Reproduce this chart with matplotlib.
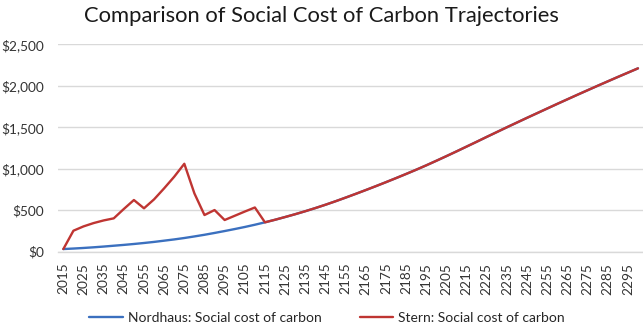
import numpy as np
import matplotlib
matplotlib.use("Agg")
import matplotlib.pyplot as plt
from matplotlib.ticker import FuncFormatter

plt.rcParams['font.family'] = ['Lato', 'DejaVu Sans']

years = list(range(2015, 2305, 5))

# tail shared by both series after 2115
tail = [385, 418, 452, 488, 526, 566, 608, 652, 697, 743, 790, 838, 887, 937,
        988, 1041, 1096, 1152, 1209, 1267, 1325, 1384, 1442, 1500, 1557, 1614,
        1670, 1726, 1782, 1837, 1892, 1946, 2000, 2053, 2106, 2158, 2210]

nordhaus = [32, 38, 45, 53, 62, 72, 82, 93, 105, 118, 133, 148, 165, 184,
            204, 226, 249, 273, 298, 325, 354] + tail

stern = [32, 253, 305, 345, 377, 402, 515, 623, 523, 631, 764, 904, 1060,
         703, 442, 502, 382, 433, 484, 533, 354] + tail

fig = plt.figure(figsize=(6.43, 3.29), dpi=100)
ax = fig.add_axes([58.3/643, 1-251.7/329, 1-58.3/643, (251.7-44.3)/329])

x = np.arange(len(years))
ax.plot(x, nordhaus, color="#3B70BF", lw=1.7, label="Nordhaus: Social cost of carbon",
        solid_capstyle="round", solid_joinstyle="round")
ax.plot(x, stern, color="#BF3532", lw=1.7, label="Stern: Social cost of carbon",
        solid_capstyle="round", solid_joinstyle="round")

ax.set_xlim(-0.5, len(years) - 0.5)
ax.set_ylim(0, 2500)
ax.set_yticks(range(0, 2501, 500))
ax.yaxis.set_major_formatter(FuncFormatter(lambda v, p: "${:,.0f}".format(v)))
ax.set_xticks(x[::2])
ax.set_xticklabels([str(y) for y in years[::2]], rotation=90)
ax.tick_params(axis="both", length=0, labelsize=9.8, colors="#333333")
ax.tick_params(axis="y", pad=10)
ax.tick_params(axis="x", pad=8)
ax.grid(axis="y", color="#D9D9D9", lw=1)
ax.set_axisbelow(True)
for s in ["top", "right", "left"]:
    ax.spines[s].set_visible(False)
ax.spines["bottom"].set_color("#D9D9D9")
ax.spines["bottom"].set_linewidth(1)

fig.text(0.5, 1-16/329, "Comparison of Social Cost of Carbon Trajectories",
         ha="center", va="center", fontsize=15.8, color="#1a1a1a")

fig.legend(loc="center", bbox_to_anchor=(0.509, 1-318/329), ncol=2, frameon=False,
           fontsize=10, handlelength=2.4, columnspacing=2.7, handletextpad=0.4,
           labelcolor="#262626")

fig.savefig("out.png", dpi=100, facecolor="white")
